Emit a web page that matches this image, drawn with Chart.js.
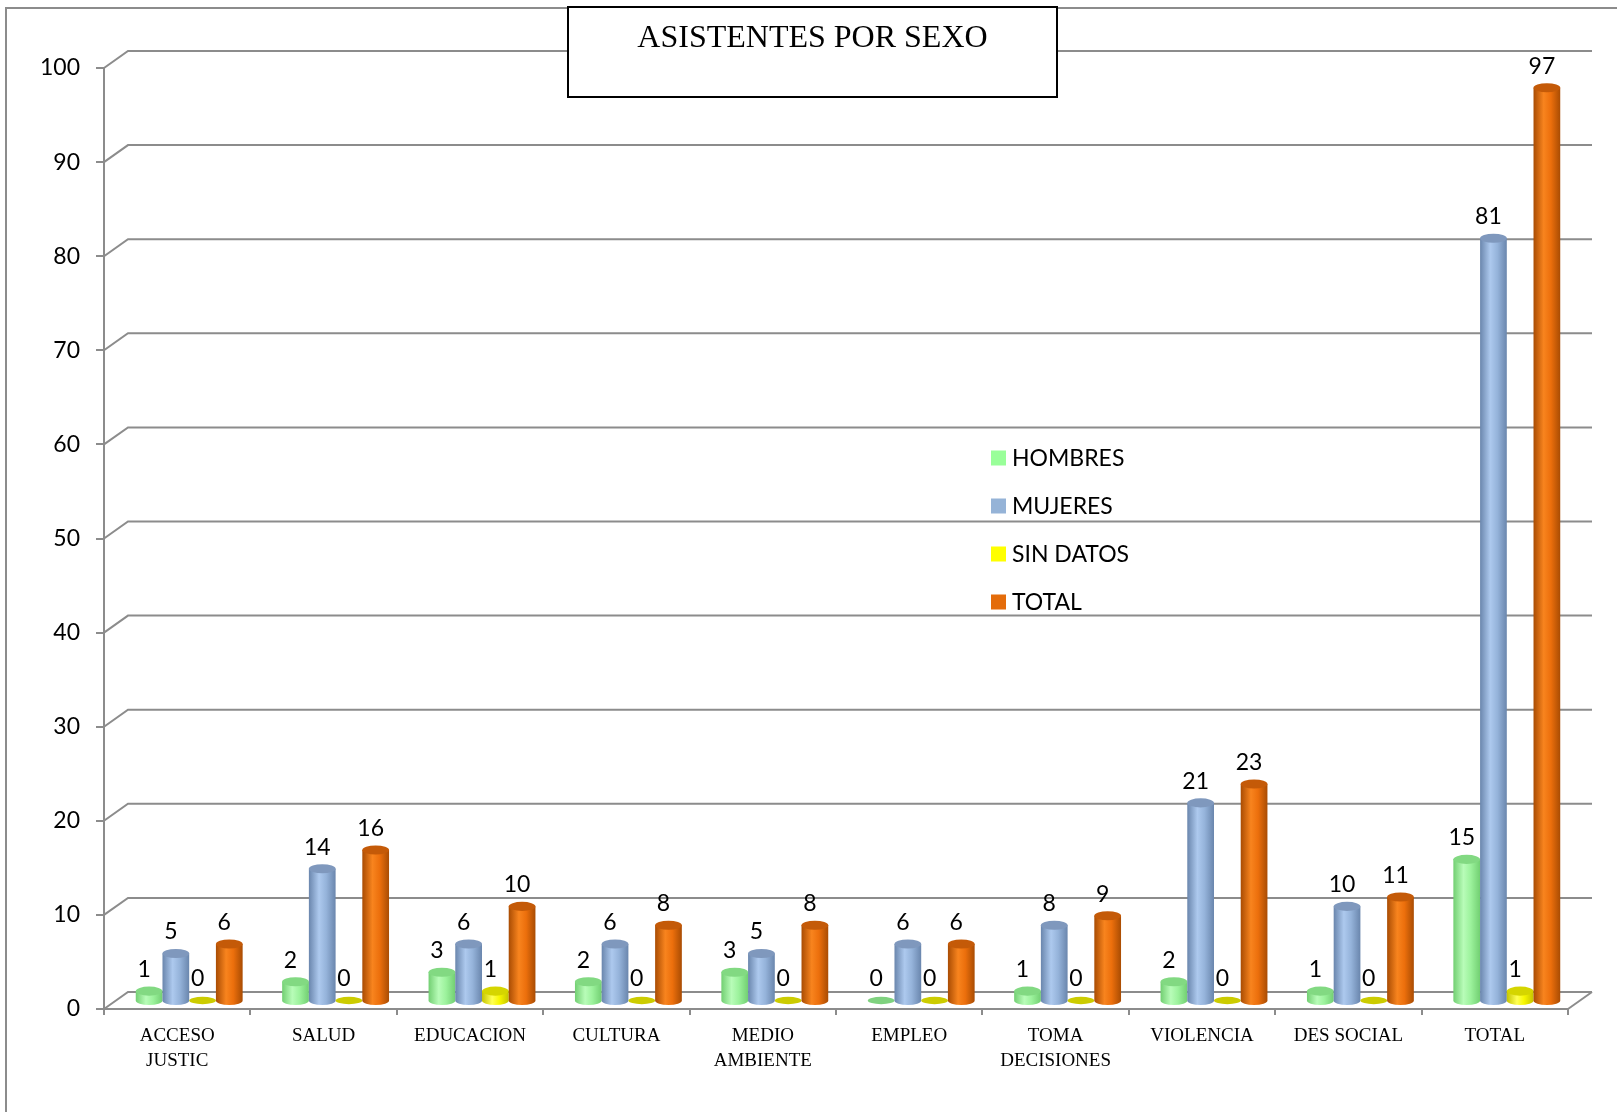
<!DOCTYPE html>
<html>
<head>
<meta charset="utf-8">
<title>Asistentes por sexo</title>
<script src="https://cdn.jsdelivr.net/npm/chart.js@4.4.0/dist/chart.umd.min.js"></script>
<style>
    html, body { margin: 0; padding: 0; background: #fff; }
    #wrap { width: 1617px; height: 1112px; }
</style>
</head>
<body>
<div id="wrap"><canvas id="asistentes" width="1617" height="1112"></canvas></div>
<script>
var categorias = [['ACCESO', 'JUSTIC'], 'SALUD', 'EDUCACION', 'CULTURA', ['MEDIO', 'AMBIENTE'],
    'EMPLEO', ['TOMA', 'DECISIONES'], 'VIOLENCIA', 'DES SOCIAL', 'TOTAL'];
var hombres = [1, 2, 3, 2, 3, 0, 1, 2, 1, 15];
var mujeres = [5, 14, 6, 6, 5, 6, 8, 21, 10, 81];
var sinDatos = [0, 0, 1, 0, 0, 0, 0, 0, 0, 1];
var total = [6, 16, 10, 8, 8, 6, 9, 23, 11, 97];
var ticksY = [0, 10, 20, 30, 40, 50, 60, 70, 80, 90, 100];

var GRIS = '#8c8c8c';
// depth of the 3d box (back wall offset)
var PROF_X = 24, PROF_Y = 17;

// shades for the cylinders: edge, highlight, body, top cap, flat disc for zero
var tonos = {
    HOMBRES:     { edge: '#72cf72', light: '#b8fcb8', mid: '#9cf29c', top: '#82d982', flat: '#7fd27f' },
    MUJERES:     { edge: '#6a86ad', light: '#adc9ee', mid: '#95b3da', top: '#7f98bd', flat: '#7f98bd' },
    'SIN DATOS': { edge: '#c4c400', light: '#ffff55', mid: '#f7f700', top: '#d5d500', flat: '#cccc00' },
    TOTAL:       { edge: '#a94c03', light: '#f8841e', mid: '#ec6f0c', top: '#c45a08', flat: '#c45a08' }
};

function drawCylinder(ctx, cx, top, base, w, c) {
    var rx = w / 2, ry = w * 0.17, left = cx - rx;
    if (base - top < 0.5) {
        // nothing to stand up, only the disc on the floor
        ctx.beginPath();
        ctx.ellipse(cx, base, rx, ry * 0.8, 0, 0, Math.PI * 2);
        ctx.fillStyle = c.flat;
        ctx.fill();
        return;
    }
    var g = ctx.createLinearGradient(left, 0, left + w, 0);
    g.addColorStop(0, c.edge);
    g.addColorStop(0.38, c.light);
    g.addColorStop(0.65, c.mid);
    g.addColorStop(1, c.edge);
    ctx.beginPath();
    ctx.moveTo(left, top);
    ctx.lineTo(left, base);
    ctx.ellipse(cx, base, rx, ry, 0, Math.PI, 0, true);
    ctx.lineTo(left + w, top);
    ctx.closePath();
    ctx.fillStyle = g;
    ctx.fill();

    ctx.beginPath();
    ctx.ellipse(cx, top, rx, ry, 0, 0, Math.PI * 2);
    ctx.fillStyle = c.top;
    ctx.fill();
}

var caja3d = {
    id: 'caja3d',
    beforeDraw: function (chart) {
        var ctx = chart.ctx;
        ctx.save();
        ctx.fillStyle = '#fff';
        ctx.fillRect(0, 0, chart.width, chart.height);
        // outer frame
        ctx.strokeStyle = GRIS;
        ctx.lineWidth = 2;
        ctx.beginPath();
        ctx.moveTo(6, chart.height);
        ctx.lineTo(6, 8);
        ctx.lineTo(chart.width, 8);
        ctx.stroke();
        ctx.restore();
    },
    beforeDatasetsDraw: function (chart) {
        var ctx = chart.ctx, area = chart.chartArea, y = chart.scales.y;
        ctx.save();
        ctx.strokeStyle = GRIS;
        ctx.lineWidth = 2;
        // back wall grid lines with their slanted joint to the axis
        ticksY.forEach(function (v) {
            var py = y.getPixelForValue(v);
            ctx.beginPath();
            ctx.moveTo(area.left, py);
            ctx.lineTo(area.left + PROF_X, py - PROF_Y);
            ctx.lineTo(area.right + PROF_X, py - PROF_Y);
            ctx.stroke();
        });
        // right edge of the floor
        ctx.beginPath();
        ctx.moveTo(area.right, area.bottom);
        ctx.lineTo(area.right + PROF_X, area.bottom - PROF_Y);
        ctx.stroke();

        // cylinders sit half way into the box
        var base = y.getPixelForValue(0) - PROF_Y / 2;
        chart.data.datasets.forEach(function (ds, i) {
            var meta = chart.getDatasetMeta(i);
            var c = tonos[ds.label];
            meta.data.forEach(function (bar, j) {
                var top = y.getPixelForValue(ds.data[j]) - PROF_Y / 2;
                drawCylinder(ctx, bar.x + PROF_X / 2, top, base, bar.width, c);
            });
        });
        ctx.restore();
        return false;
    },
    afterDraw: function (chart) {
        var ctx = chart.ctx, y = chart.scales.y;
        ctx.save();
        // value labels
        ctx.fillStyle = '#000';
        ctx.font = '23px Lato';
        ctx.textAlign = 'center';
        ctx.textBaseline = 'middle';
        chart.data.datasets.forEach(function (ds, i) {
            chart.getDatasetMeta(i).data.forEach(function (bar, j) {
                ctx.fillText(String(ds.data[j]), bar.x + 7, y.getPixelForValue(ds.data[j]) - 30);
            });
        });

        // legend inside the plot
        ctx.textAlign = 'left';
        chart.data.datasets.forEach(function (ds, i) {
            var ly = 458 + i * 48;
            ctx.fillStyle = ds.backgroundColor;
            ctx.fillRect(991, ly - 7.5, 15, 15);
            ctx.fillStyle = '#000';
            ctx.fillText(ds.label, 1012, ly + 1);
        });

        // boxed title
        ctx.fillStyle = '#fff';
        ctx.fillRect(568, 7, 489, 90);
        ctx.strokeStyle = '#000';
        ctx.lineWidth = 2;
        ctx.strokeRect(568, 7, 489, 90);
        ctx.fillStyle = '#000';
        ctx.font = '32px "Liberation Serif"';
        ctx.textAlign = 'center';
        ctx.textBaseline = 'alphabetic';
        ctx.fillText('ASISTENTES POR SEXO', 812.5, 47);
        ctx.restore();
    }
};

function init() {
    var ctx = document.getElementById('asistentes').getContext('2d');
    var data = {
        labels: categorias,
        datasets: [
            { label: 'HOMBRES', data: hombres, backgroundColor: '#99ff99' },
            { label: 'MUJERES', data: mujeres, backgroundColor: '#95b3d7' },
            { label: 'SIN DATOS', data: sinDatos, backgroundColor: '#ffff00' },
            { label: 'TOTAL', data: total, backgroundColor: '#e46c0a' }
        ]
    };

    new Chart(ctx, {
        type: 'bar',
        data: data,
        plugins: [caja3d],
        options: {
            responsive: false,
            animation: false,
            layout: { padding: { top: 68, right: 49, left: 0, bottom: 0 } },
            datasets: { bar: { categoryPercentage: 0.73, barPercentage: 1.0 } },
            plugins: {
                legend: { display: false },
                tooltip: { enabled: false }
            },
            scales: {
                x: {
                    afterFit: function (s) { s.height = 103; },
                    grid: { drawOnChartArea: false, offset: true, tickLength: 6, color: GRIS, lineWidth: 2 },
                    border: { display: true, color: GRIS, width: 2 },
                    ticks: {
                        autoSkip: false, maxRotation: 0, padding: 9, color: '#000',
                        font: { family: '"Liberation Serif"', size: 19, lineHeight: 1.3 }
                    }
                },
                y: {
                    min: 0,
                    max: 100,
                    afterFit: function (s) { s.width = 104; },
                    grid: { drawOnChartArea: false, tickLength: 8, color: GRIS, lineWidth: 2 },
                    border: { display: true, color: GRIS, width: 2 },
                    ticks: { stepSize: 10, padding: 16, color: '#000', font: { family: 'Lato', size: 23 } }
                }
            }
        }
    });
}

init();
</script>
</body>
</html>
